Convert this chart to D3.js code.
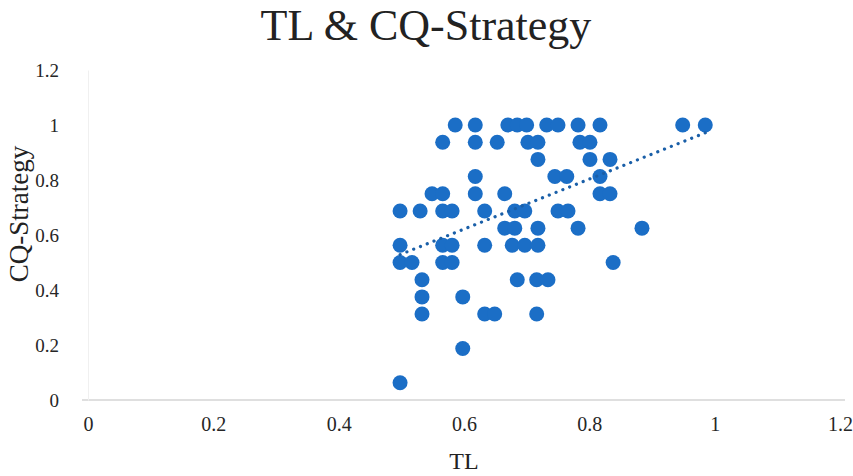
<!DOCTYPE html>
<html>
<head>
<meta charset="utf-8">
<script src="https://cdn.jsdelivr.net/npm/d3@7"></script>
<style>
  body { margin: 0; background: #fff; }
  text { font-family: "Liberation Serif", "Times New Roman", serif; }
</style>
</head>
<body>
<div id="chart"></div>
<script>
// TL on x, CQ-Strategy on y
const tl = [
  0.586, 0.618, 0.670, 0.685, 0.700, 0.732, 0.750, 0.782, 0.817, 0.949, 0.985,
  0.566, 0.618, 0.653, 0.702, 0.718, 0.785, 0.801,
  0.718, 0.801, 0.833,
  0.618, 0.745, 0.764, 0.817,
  0.549, 0.566, 0.618, 0.665, 0.817, 0.833,
  0.498, 0.530, 0.566, 0.581, 0.633, 0.681, 0.697, 0.750, 0.766,
  0.665, 0.681, 0.718, 0.782, 0.884,
  0.498, 0.566, 0.581, 0.633, 0.677, 0.697, 0.718,
  0.498, 0.517, 0.566, 0.581, 0.838,
  0.533, 0.685, 0.716, 0.734,
  0.533, 0.598,
  0.533, 0.633, 0.649, 0.716,
  0.598,
  0.498
];
const cq = [
  1, 1, 1, 1, 1, 1, 1, 1, 1, 1, 1,
  0.9375, 0.9375, 0.9375, 0.9375, 0.9375, 0.9375, 0.9375,
  0.875, 0.875, 0.875,
  0.8125, 0.8125, 0.8125, 0.8125,
  0.75, 0.75, 0.75, 0.75, 0.75, 0.75,
  0.6875, 0.6875, 0.6875, 0.6875, 0.6875, 0.6875, 0.6875, 0.6875, 0.6875,
  0.625, 0.625, 0.625, 0.625, 0.625,
  0.5625, 0.5625, 0.5625, 0.5625, 0.5625, 0.5625, 0.5625,
  0.5, 0.5, 0.5, 0.5, 0.5,
  0.4375, 0.4375, 0.4375, 0.4375,
  0.375, 0.375,
  0.3125, 0.3125, 0.3125, 0.3125,
  0.1875,
  0.0625
];
const tickVals = [0, 0.2, 0.4, 0.6, 0.8, 1, 1.2];
const tickLabels = ["0", "0.2", "0.4", "0.6", "0.8", "1", "1.2"];

const width = 853, height = 476;
const margin = { top: 70, right: 13, bottom: 76, left: 88 };
const data = tl.map((x, i) => ({ x: x, y: cq[i] }));

const svg = d3.select("#chart").append("svg")
  .attr("width", width)
  .attr("height", height);

const x = d3.scaleLinear().domain([0, 1.2]).range([margin.left, width - margin.right]);
const y = d3.scaleLinear().domain([0, 1.2]).range([height - margin.bottom, margin.top]);

// title
svg.append("text")
  .attr("x", 426).attr("y", 40)
  .attr("text-anchor", "middle")
  .style("font-size", "44px")
  .style("fill", "#222")
  .text("TL & CQ-Strategy");

// x axis
const xAxis = svg.append("g")
  .attr("transform", `translate(0,${y(0)})`)
  .call(d3.axisBottom(x).tickValues(tickVals).tickSize(0).tickPadding(17)
    .tickFormat((d, i) => tickLabels[i]));
xAxis.select(".domain").attr("stroke", "#d4d4d4").attr("stroke-width", 1.3)
  .attr("d", `M${x(0) - 6},0H${x(1.2) + 5}`);
xAxis.selectAll("text").style("font-size", "20px").style("fill", "#262626")
  .style("font-family", "'Liberation Serif', serif");

// y axis
const yAxis = svg.append("g")
  .attr("transform", `translate(${x(0)},0)`)
  .call(d3.axisLeft(y).tickValues(tickVals).tickSize(0).tickPadding(29)
    .tickFormat((d, i) => tickLabels[i]));
yAxis.select(".domain").attr("stroke", "#f0f0f0").attr("stroke-width", 1);
yAxis.selectAll("text").style("font-size", "19px").style("fill", "#262626")
  .style("font-family", "'Liberation Serif', serif");

// axis titles
svg.append("text")
  .attr("x", x(0.6)).attr("y", 469)
  .attr("text-anchor", "middle")
  .style("font-size", "24px").style("fill", "#222")
  .text("TL");

svg.append("text")
  .attr("transform", `translate(28,214) rotate(-90)`)
  .attr("text-anchor", "middle")
  .style("font-size", "27px").style("fill", "#222")
  .text("CQ-Strategy");

// points
svg.append("g").selectAll("circle")
  .data(data)
  .enter()
  .append("circle")
  .attr("cx", d => x(d.x))
  .attr("cy", d => y(d.y))
  .attr("r", 7.5)
  .style("fill", "#1b6ec6");

// linear trendline (least squares)
const mx = d3.mean(data, d => d.x), my = d3.mean(data, d => d.y);
const slope = d3.sum(data, d => (d.x - mx) * (d.y - my)) / d3.sum(data, d => (d.x - mx) ** 2);
const icpt = my - slope * mx;
const ext = d3.extent(data, d => d.x);
svg.append("line")
  .attr("x1", x(ext[0])).attr("y1", y(icpt + slope * ext[0]))
  .attr("x2", x(ext[1])).attr("y2", y(icpt + slope * ext[1]))
  .attr("stroke", "#1a5fa8")
  .attr("stroke-width", 3.2)
  .attr("stroke-linecap", "round")
  .attr("stroke-dasharray", "0.1 7.2");
</script>
</body>
</html>
